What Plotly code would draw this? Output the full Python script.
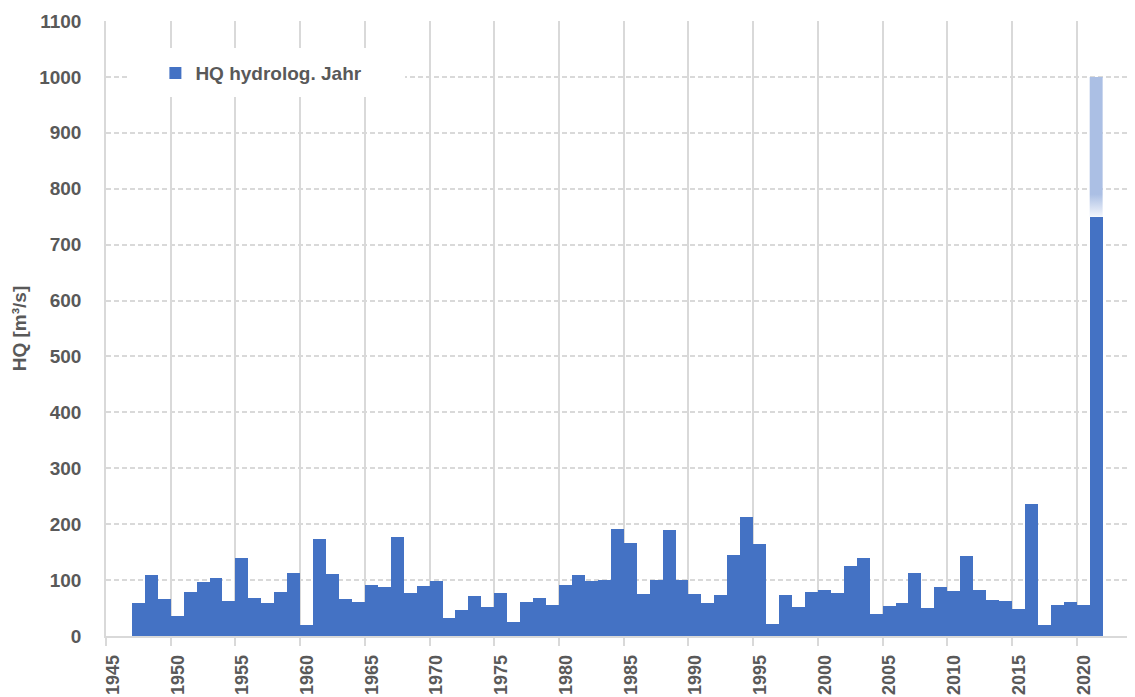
import plotly.graph_objects as go

# Annual peak discharge (HQ), hydrological year
years = list(range(1947, 2022))
hq = [59, 109, 66, 36, 79, 96, 104, 63, 139, 68,
      59, 79, 112, 20, 173, 111, 66, 61, 91, 87,
      177, 77, 89, 98, 32, 46, 71, 52, 77, 25,
      61, 68, 55, 91, 109, 98, 100, 191, 166, 75,
      100, 189, 100, 75, 59, 73, 145, 212, 164, 21,
      73, 52, 79, 82, 77, 125, 139, 39, 54, 59,
      112, 50, 87, 80, 143, 82, 64, 62, 48, 236,
      20, 55, 61, 55, 750]

# estimated upper range for the last year (light part of the bar)
ext_year = 2021
ext_top = 1000

tick_years = list(range(1945, 2021, 5))
y_ticks = list(range(0, 1101, 100))

GRAY = "#595959"
GRID = "#D9D9D9"
BLUE = "#4472C4"
FONT = dict(family="Liberation Sans", size=19, color=GRAY, weight="bold")

fig = go.Figure()

fig.add_trace(go.Bar(
    x=years, y=hq, width=1, offset=0,
    marker=dict(color=BLUE, line=dict(width=0)),
    name="HQ hydrolog. Jahr",
))

# light, fading extension of the last bar
ext_base = hq[years.index(ext_year)]
fig.add_trace(go.Scatter(
    x=[ext_year, ext_year + 1, ext_year + 1, ext_year, ext_year],
    y=[ext_base, ext_base, ext_top, ext_top, ext_base],
    mode="lines", fill="toself", line=dict(width=0),
    fillgradient=dict(type="vertical", start=ext_base, stop=ext_base + 40,
                      colorscale=[[0, "#F3F6FC"], [1, "#ABBFE4"]]),
    showlegend=False, hoverinfo="skip",
))

# page body adds 8px margin, so the figure is a bit smaller than the window
fig.update_layout(
    width=1127, height=689,
    margin=dict(l=98, r=0, t=13, b=61),
    plot_bgcolor="white", paper_bgcolor="white",
    font=FONT,
    bargap=0,
    showlegend=True,
    legend=dict(x=0.048, y=0.9154, xanchor="left", yanchor="middle",
                bgcolor="rgba(0,0,0,0)", font=FONT),
    shapes=[dict(type="rect", xref="paper", yref="paper",
                 x0=0.0204, x1=0.2906, y0=0.8764, y1=0.9561,
                 fillcolor="white", line=dict(width=0), layer="above")],
)

fig.update_xaxes(
    range=[1945, 2024.5],
    tickvals=tick_years, tickangle=-90,
    ticks="outside", ticklen=8, tickcolor=GRID, tickwidth=1.5,
    ticklabelstandoff=2, ticklabelshift=7,
    showgrid=True, gridcolor=GRID, gridwidth=1.5,
    showline=True, linecolor=GRID, linewidth=1.5,
    zeroline=False, tickfont=dict(FONT, size=18), automargin=False,
)

fig.update_yaxes(
    range=[0, 1100],
    tickvals=y_ticks,
    ticks="", ticklabelstandoff=19,
    showgrid=True, gridcolor=GRID, gridwidth=1.5, griddash="5px,3px",
    showline=True, linecolor=GRID, linewidth=1.5,
    zeroline=False, tickfont=FONT, automargin=False,
    title=dict(text="HQ [m³/s]", font=FONT, standoff=8),
)

fig.write_html("out.html")
